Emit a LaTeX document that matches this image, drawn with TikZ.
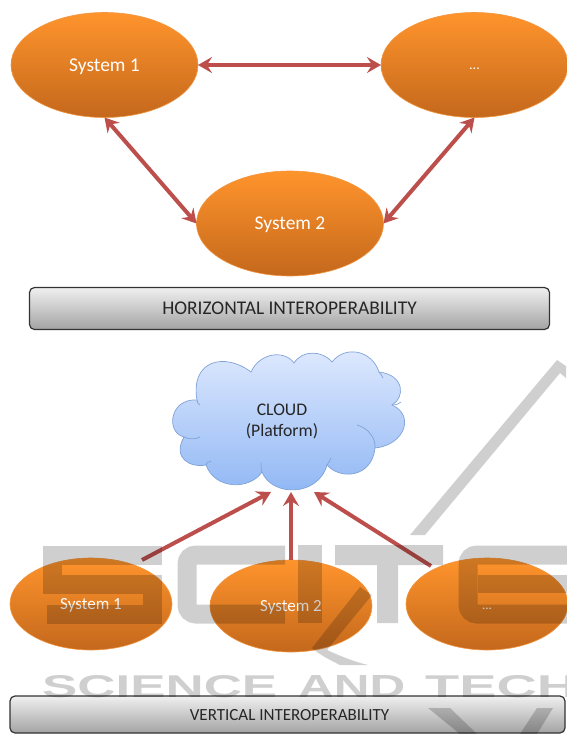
\documentclass[tikz,border=0pt]{standalone}
\usepackage{fontspec}
\usepackage{graphicx}
\setmainfont{Carlito}
\newfontfamily\wmfont{Liberation Sans}
\usetikzlibrary{arrows.meta,shapes.geometric}
\definecolor{orangetop}{HTML}{FF942C}
\definecolor{orangebot}{HTML}{C4681C}
\definecolor{orangeedge}{HTML}{F2953F}
\definecolor{linkred}{HTML}{BC4F4C}
\definecolor{cloudtop}{HTML}{E0EAFE}
\definecolor{cloudbot}{HTML}{8EB6F4}
\definecolor{cloudedge}{HTML}{7FA3D6}
\newcommand{\lowtext}[2]{\smash{\raisebox{-#1}{#2}}}
\tikzset{
  sysnode/.style={ellipse,draw=orangeedge,line width=0.6pt,top color=orangetop,bottom color=orangebot,
    text=white,inner sep=0pt,outer sep=0pt},
  bigsys/.style={sysnode,minimum width=187pt,minimum height=105pt,font=\fontsize{19.5}{22}\selectfont},
  smallsys/.style={sysnode,minimum width=162pt,minimum height=92pt,font=\fontsize{17}{20}\selectfont},
  barnode/.style={draw=black!80,line width=1.2pt,rounded corners=5pt,top color=black!6,bottom color=black!36,
    text=black!85,inner sep=0pt,outer sep=0pt},
  link/.style={draw=linkred,line width=4pt},
  twoway/.style={link,{Stealth[length=14pt,width=16pt,inset=5pt]}-{Stealth[length=14pt,width=16pt,inset=5pt]}},
  oneway/.style={link,-{Stealth[length=14pt,width=16pt,inset=5pt]}},
  cloudline/.style={draw=cloudedge,line width=0.7pt},
  wmfill/.style={fill=black,fill opacity=0.19,draw=none},
  wmstroke/.style={draw=black,draw opacity=0.19,line width=19pt},
  wmtext/.style={text=black,text opacity=0.19,inner sep=0pt,font=\wmfont\bfseries}
}
\begin{document}
\begin{tikzpicture}[x=1pt,y=-1pt]
\useasboundingbox (0,0) rectangle (566,734);
% top group
\node[bigsys] (a1) at (104.5,65) {\lowtext{6pt}{System 1}};
\node[bigsys] (a3) at (474.5,65) {\lowtext{4.5pt}{\fontsize{14}{16}\selectfont ...}};
\node[bigsys] (a2) at (290,223.5) {\lowtext{6pt}{System 2}};
\draw[twoway] (a1.east) -- (a3.west);
\draw[twoway] (a1.south) -- (a2.west);
\draw[twoway] (a3.south) -- (a2.east);
\node[barnode,minimum width=520pt,minimum height=42pt,font=\fontsize{19.4}{22}\selectfont] (hbar) at (289.5,308.5) {\lowtext{6pt}{HORIZONTAL INTEROPERABILITY}};
% cloud
\path[cloudline,top color=cloudtop,bottom color=cloudbot]
  (197,400) .. controls (170,398) and (165,432) .. (184,437)
  .. controls (172,458) and (190,468) .. (206,465)
  .. controls (215,490) and (250,490) .. (262,472)
  .. controls (272,497) and (318,497) .. (327,465)
  .. controls (340,480) and (372,478) .. (375,448)
  .. controls (405,445) and (415,415) .. (392,405)
  .. controls (405,398) and (405,375) .. (379,372)
  .. controls (372,350) and (345,345) .. (332,362)
  .. controls (322,350) and (302,350) .. (294,363)
  .. controls (285,350) and (260,352) .. (251,372)
  .. controls (225,352) and (190,360) .. (197,400) -- cycle;
\draw[cloudline] (184,437) .. controls (190,440) and (196,439) .. (200,437);
\draw[cloudline] (206,465) .. controls (206,463) and (208,462) .. (211,461);
\draw[cloudline] (262,472) .. controls (261,468) and (261,466) .. (261,463);
\draw[cloudline] (327,465) .. controls (329,462) and (330,460) .. (331,458);
\draw[cloudline] (357,425) .. controls (368,428) and (376,438) .. (375,448);
\draw[cloudline] (392,405) .. controls (396,405) and (399,404) .. (401,402);
\draw[cloudline] (379,372) .. controls (381,374) and (382,376) .. (383,378);
\draw[cloudline] (197,400) .. controls (197,402) and (198,404) .. (200,405);
\node[inner sep=0pt,align=center,text=black!85,font=\fontsize{17.7}{21}\selectfont,minimum width=120pt,minimum height=90pt] (cloud) at (282,421) {CLOUD\\(Platform)};
\coordinate (c1) at (271,492);
\coordinate (c2) at (291,492);
\coordinate (c3) at (314,492);
% bottom group
\node[smallsys] (b1) at (91,604) {\lowtext{5.5pt}{System 1}};
\node[smallsys] (b2) at (291,606) {\lowtext{5.5pt}{System 2}};
\node[smallsys] (b3) at (487,604) {\lowtext{5.5pt}{\fontsize{13}{15}\selectfont ...}};
\coordinate (s1) at (142,560);
\coordinate (s3) at (431,566);
\draw[oneway] (s1) -- (c1);
\draw[oneway] (b2.north) -- (c2);
\draw[oneway] (s3) -- (c3);
\node[barnode,minimum width=555pt,minimum height=37pt] (vbar) at (287.5,714.5) {};
\node[text=black!85,font=\fontsize{17}{20}\selectfont,inner sep=0pt] (vlabel) at (289.5,715) {\lowtext{5pt}{VERTICAL INTEROPERABILITY}};
% watermark
\draw[wmstroke] (162,555) -- (52,555) -- (52,584) -- (152,584) -- (152,614) -- (47,614);
\draw[wmstroke,rounded corners=9pt] (285,555) -- (187,555) -- (187,614) -- (285,614);
\fill[wmfill] (298,545) rectangle (322,623);
\fill[wmfill] (335,545) -- (443,545) -- (443,565) -- (398,565) -- (398,623) -- (377,623) -- (377,565) -- (335,565) -- cycle;
\draw[wmstroke,rounded corners=9pt] (572,555) -- (468,555) -- (468,614) -- (572,614);
\fill[wmfill] (477.5,575) rectangle (572,593);
\fill[wmfill] (410,535) -- (557,360) -- (566,366) -- (566,378) -- (560,373) -- (425,535) -- cycle;
\fill[wmfill] (360,587) -- (372,595) -- (327,650) .. controls (340,656) and (355,662) .. (368,665) -- (340,665) .. controls (330,660) and (320,655) .. (312,648) -- cycle;
\fill[wmfill] (428,708) -- (450,708) -- (477,734) -- (460,734) -- cycle;
\fill[wmfill] (537,708) -- (553,708) -- (537,734) -- (520,734) -- cycle;
\node[wmtext,anchor=north west] (w1) at (42,675) {\resizebox{235pt}{22pt}{SCIENCE}};
\node[wmtext,anchor=north west] (w2) at (298,675) {\resizebox{107pt}{22pt}{AND}};
\node[wmtext,anchor=north west] (w3) at (425,675) {\resizebox{152pt}{22pt}{TECH}};
\end{tikzpicture}
\end{document}
